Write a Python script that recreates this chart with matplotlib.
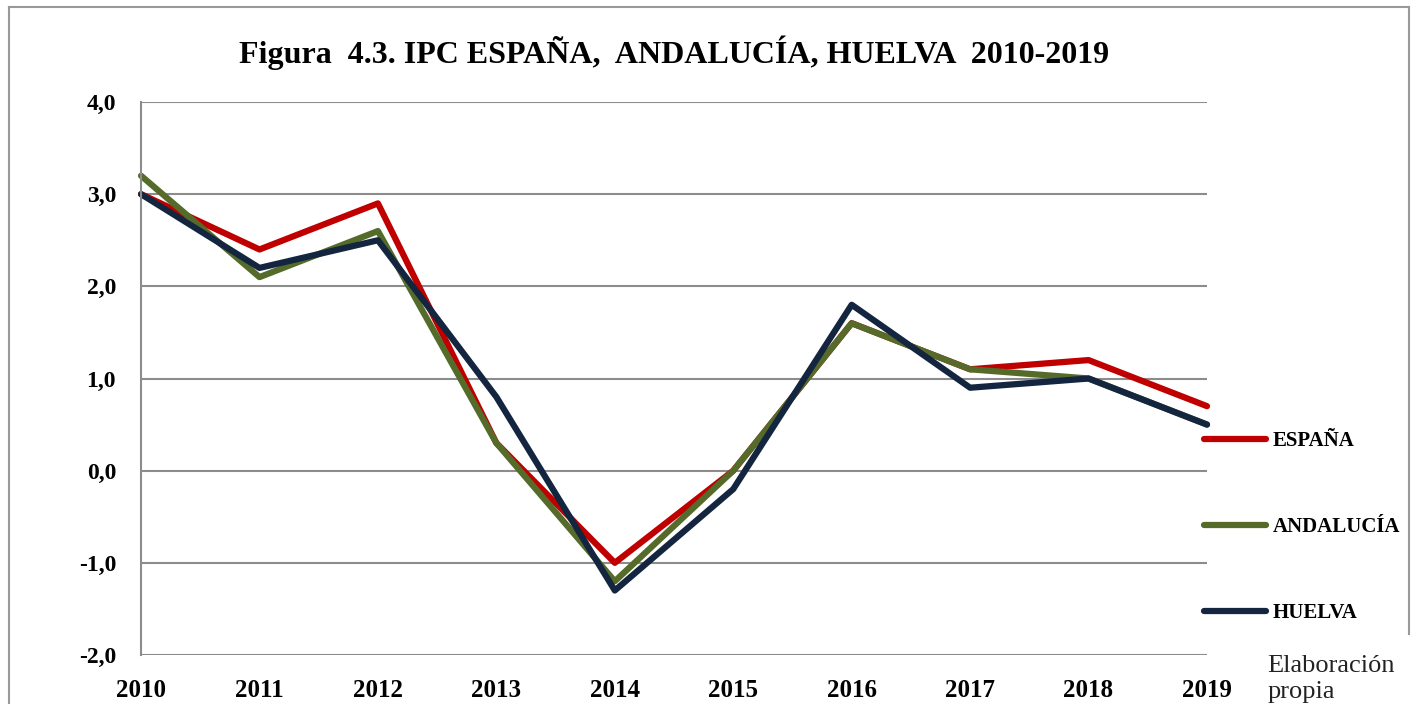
import matplotlib.pyplot as plt
from matplotlib.lines import Line2D

years = [2010, 2011, 2012, 2013, 2014, 2015, 2016, 2017, 2018, 2019]
espana = [3.0, 2.4, 2.9, 0.3, -1.0, 0.0, 1.6, 1.1, 1.2, 0.7]
andalucia = [3.2, 2.1, 2.6, 0.3, -1.2, 0.0, 1.6, 1.1, 1.0, 0.5]
huelva = [3.0, 2.2, 2.5, 0.8, -1.3, -0.2, 1.8, 0.9, 1.0, 0.5]
yticks = [-2, -1, 0, 1, 2, 3, 4]

plt.rcParams['font.family'] = ['Liberation Serif', 'DejaVu Serif']

fig = plt.figure(figsize=(14.19, 7.04), dpi=100)
ax = fig.add_axes([0.0994, 0.0696, 0.7512, 0.7855])

colors = ['#C00000', '#556B2A', '#14253F']
names = ['ESPAÑA', 'ANDALUCÍA', 'HUELVA']
for vals, c, n in zip([espana, andalucia, huelva], colors, names):
    ax.plot(years, vals, color=c, lw=4.5, label=n, solid_capstyle='round', clip_on=False)

ax.set_xlim(2010, 2019)
ax.set_ylim(-2, 4)
ax.set_yticks(yticks)
ax.set_yticklabels([f"{v:.1f}".replace('.', ',') for v in yticks], fontsize=17, fontweight='bold')
ax.set_xticks(years)
ax.set_xticklabels([str(y) for y in years], fontsize=18, fontweight='bold')
ax.tick_params(length=0, pad=18, axis='y')
ax.tick_params(length=0, pad=17, axis='x')
ax.grid(axis='y', color='#8c8c8c', lw=1.5)
ax.set_axisbelow(True)
for s in ['top', 'right', 'bottom']:
    ax.spines[s].set_visible(False)
ax.spines['left'].set_color('#8c8c8c')
ax.spines['left'].set_linewidth(1.5)

handles = [Line2D([], [], color=c, lw=4.5, solid_capstyle='round') for c in colors]
leg = fig.legend(handles, names, loc='upper left', bbox_to_anchor=(0.841, 0.402),
                 frameon=False, handlelength=3.0, handletextpad=0.3,
                 labelspacing=3.17, borderpad=0,
                 prop={'size': 15, 'weight': 'bold'})

fig.text(0.475, 0.925, "Figura  4.3. IPC ESPAÑA,  ANDALUCÍA, HUELVA  2010-2019",
         ha='center', va='center', fontsize=23, fontweight='bold')
fig.text(0.893, 0.036, "Elaboración\npropia", ha='left', va='center', fontsize=19,
         linespacing=1.25, color='#222222')

# outer frame
fig.add_artist(Line2D([0.006, 0.006], [0, 0.99], color='#999999', lw=1.5, transform=fig.transFigure))
fig.add_artist(Line2D([0.006, 0.993], [0.99, 0.99], color='#999999', lw=1.5, transform=fig.transFigure))
fig.add_artist(Line2D([0.993, 0.993], [0.1, 0.99], color='#999999', lw=1.5, transform=fig.transFigure))

fig.savefig('out.png', dpi=100)
